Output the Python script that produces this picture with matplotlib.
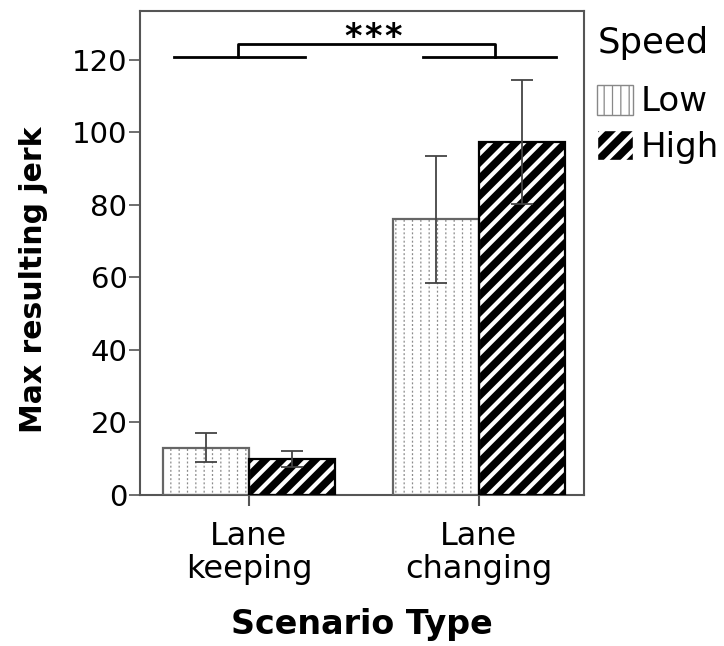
import matplotlib
matplotlib.use("Agg")
import matplotlib.pyplot as plt
from matplotlib.patches import Patch
import numpy as np

categories = ["Lane\nkeeping", "Lane\nchanging"]
speeds = ["Low", "High"]
low_mean = [13.1, 76.0]
low_err = [3.9, 17.6]
high_mean = [9.9, 97.4]
high_err = [2.2, 17.2]

plt.rcParams['font.family'] = ['DejaVu Sans']

fig = plt.figure(figsize=(7.24, 6.46), dpi=100)
ax = fig.add_axes([140/724, 1 - 495/646, 444/724, 484/646])

x = np.arange(len(categories))
w = 0.373
errc = '#444444'
edge_gray = '#666666'

# Low bars: white with dotted vertical lines
plt.rcParams['hatch.linewidth'] = 0.9
ax.bar(x - w/2, low_mean, w, color='white', edgecolor='#8a8a8a', hatch='||', linewidth=0, zorder=2)
plt.rcParams['hatch.linewidth'] = 1.6
ax.bar(x - w/2, low_mean, w, facecolor='none', edgecolor='white', hatch='----', linewidth=0, zorder=2.5)
ax.bar(x - w/2, low_mean, w, facecolor='none', edgecolor=edge_gray, linewidth=1.6, zorder=3)
# High bars: black with white stripes
plt.rcParams['hatch.linewidth'] = 3.0
ax.bar(x + w/2, high_mean, w, color='black', edgecolor='white', hatch='//', linewidth=0, zorder=2)
ax.bar(x + w/2, high_mean, w, facecolor='none', edgecolor='black', linewidth=1.6, zorder=3)

ax.errorbar(x - w/2, low_mean, yerr=low_err, fmt='none', ecolor=errc, elinewidth=1.3, capsize=8, capthick=1.3, zorder=4)
ax.errorbar(x + w/2, high_mean, yerr=high_err, fmt='none', ecolor=errc, elinewidth=1.3, capsize=8, capthick=1.3, zorder=4)

ax.set_xlim(-0.474, 1.457)
ax.set_ylim(0, 133.5)
ax.set_yticks([0, 20, 40, 60, 80, 100, 120])
ax.set_xticks(x)
ax.set_xticklabels(categories, fontsize=23, linespacing=1.08)
ax.tick_params(axis='y', labelsize=21, length=8, width=1.2, color='#555555', pad=1)
ax.tick_params(axis='x', length=8, width=1.5, color='#555555', pad=11)
for s in ax.spines.values():
    s.set_color('#555555')
    s.set_linewidth(1.5)

ax.set_ylabel("Max resulting jerk", fontsize=21.5, fontweight='bold')
ax.yaxis.set_label_coords(-0.207, 0.445)
ax.set_xlabel("Scenario Type", fontsize=24, fontweight='bold', labelpad=16)

# significance annotation
lk = dict(color='black', lw=2, clip_on=False, zorder=5)
ax.plot([-0.326, 0.243], [120.8, 120.8], **lk)
ax.plot([0.757, 1.335], [120.8, 120.8], **lk)
ax.plot([-0.048, -0.048, 1.07, 1.07], [120.8, 124.4, 124.4, 120.8], **lk)
for sx in [0.452, 0.539, 0.626]:
    ax.text(sx, 123.6, "*", ha='center', va='baseline', fontsize=24, fontweight='bold')

plt.rcParams['hatch.linewidth'] = 0.9
h_low = Patch(facecolor='white', edgecolor='#888888', hatch='||', label='Low')
plt.rcParams['hatch.linewidth'] = 3.0
h_high = Patch(facecolor='black', edgecolor='white', hatch='//', label='High')
leg = ax.legend(handles=[h_low, h_high], title='Speed', loc='upper left', bbox_to_anchor=(1.03, 0.968),
                frameon=False, fontsize=24.5, title_fontsize=25.5, handlelength=1.06, handleheight=0.97,
                handletextpad=0.2, labelspacing=0.35, borderaxespad=0, borderpad=0)
leg._legend_box.align = 'left'
leg._legend_box.sep = 0.35 * 24.5 + 9
lh = leg.legend_handles
if hasattr(lh[0], 'set_hatch_linewidth'):
    lh[0].set_hatch_linewidth(0.9)
    lh[1].set_hatch_linewidth(3.0)
else:
    lh[0]._hatch_linewidth = 0.9
    lh[1]._hatch_linewidth = 3.0

fig.savefig("out.png", dpi=100)
